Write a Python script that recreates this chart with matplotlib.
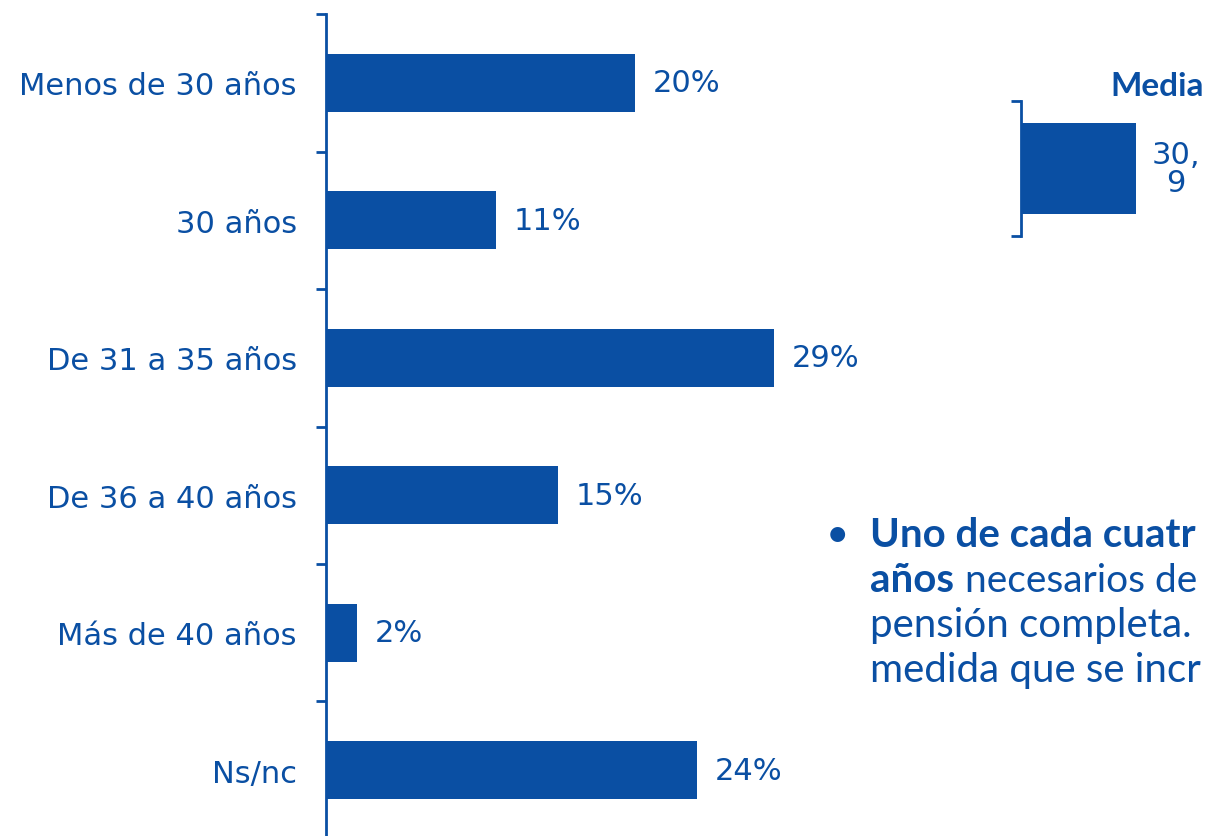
import matplotlib.pyplot as plt
from matplotlib.ticker import FixedLocator

# data
categorias = ['Menos de 30 años', '30 años', 'De 31 a 35 años',
              'De 36 a 40 años', 'Más de 40 años', 'Ns/nc']
porcentajes = [20, 11, 29, 15, 2, 24]
media_valor = 30.9
media_texto = '30,\n9'

azul = '#0a4fa3'
W, H = 1209, 837

fig = plt.figure(figsize=(W / 100, H / 100), dpi=100)

# main bar chart
x0, x1 = 326, 1000
y_top, y_bot = 15, 840
ax = fig.add_axes([x0 / W, 1 - y_bot / H, (x1 - x0) / W, (y_bot - y_top) / H])
px_per_pct = 15.45
ax.set_xlim(0, (x1 - x0) / px_per_pct)
n = len(categorias)
ax.set_ylim(n - 0.5, -0.5)

pos = list(range(n))
ax.barh(pos, porcentajes, height=0.42, color=azul, edgecolor='none')
for p, v in zip(pos, porcentajes):
    ax.annotate(f'{v}%', (v, p), xytext=(13, 0), textcoords='offset points',
                va='center', ha='left', fontsize=22, color=azul,
                family='DejaVu Sans')

for s in ['top', 'right', 'bottom']:
    ax.spines[s].set_visible(False)
ax.spines['left'].set_color(azul)
ax.spines['left'].set_linewidth(2)
ax.set_xticks([])
ax.set_yticks(pos)
ax.set_yticklabels(categorias, fontsize=22, color=azul, family='DejaVu Sans')
ax.tick_params(axis='y', which='major', length=0, pad=21)
ax.yaxis.set_minor_locator(FixedLocator([i - 0.5 for i in range(n + 1)]))
ax.tick_params(axis='y', which='minor', length=7, width=2, color=azul)

# "Media" inset
mx0, mx1 = 1021, 1209
my_top, my_bot = 102, 237
axm = fig.add_axes([mx0 / W, 1 - my_bot / H, (mx1 - mx0) / W, (my_bot - my_top) / H])
axm.set_xlim(0, media_valor * (mx1 - mx0) / (1136 - mx0))
axm.set_ylim(-0.5, 0.5)
axm.barh([0], [media_valor], height=0.67, color=azul, edgecolor='none')
axm.annotate(media_texto, (media_valor, 0), xytext=(11, 0), textcoords='offset points',
             va='center', ha='left', multialignment='center', fontsize=22,
             color=azul, family='DejaVu Sans', linespacing=0.95)
for s in ['top', 'right', 'bottom']:
    axm.spines[s].set_visible(False)
axm.spines['left'].set_color(azul)
axm.spines['left'].set_linewidth(2)
axm.set_xticks([])
axm.set_yticks([-0.5, 0.5])
axm.set_yticklabels([])
axm.tick_params(axis='y', length=7, width=2, color=azul)

fig.text(1110 / W, 1 - 87 / H, 'Media', fontsize=24, fontweight='bold',
         color=azul, va='center', ha='left', family='Lato')

# bullet text, only the part visible in the source
fs = 29
fig.text(826 / W, 1 - 547 / H, '•', fontsize=fs, color=azul,
         va='baseline', ha='left', family='Lato')
fig.text(870 / W, 1 - 547 / H, 'Uno de cada cuatr', fontsize=fs,
         fontweight='bold', color=azul, va='baseline', family='Lato')
fig.text(870 / W, 1 - 592 / H, 'años', fontsize=fs, fontweight='bold',
         color=azul, va='baseline', family='Lato')
fig.text(965 / W, 1 - 592 / H, 'necesarios de', fontsize=28,
         color=azul, va='baseline', family='Lato')
fig.text(870 / W, 1 - 637 / H, 'pensión completa.', fontsize=fs,
         color=azul, va='baseline', family='Lato')
fig.text(870 / W, 1 - 682 / H, 'medida que se incr', fontsize=fs,
         color=azul, va='baseline', family='Lato')

fig.savefig('out.png', dpi=100)
